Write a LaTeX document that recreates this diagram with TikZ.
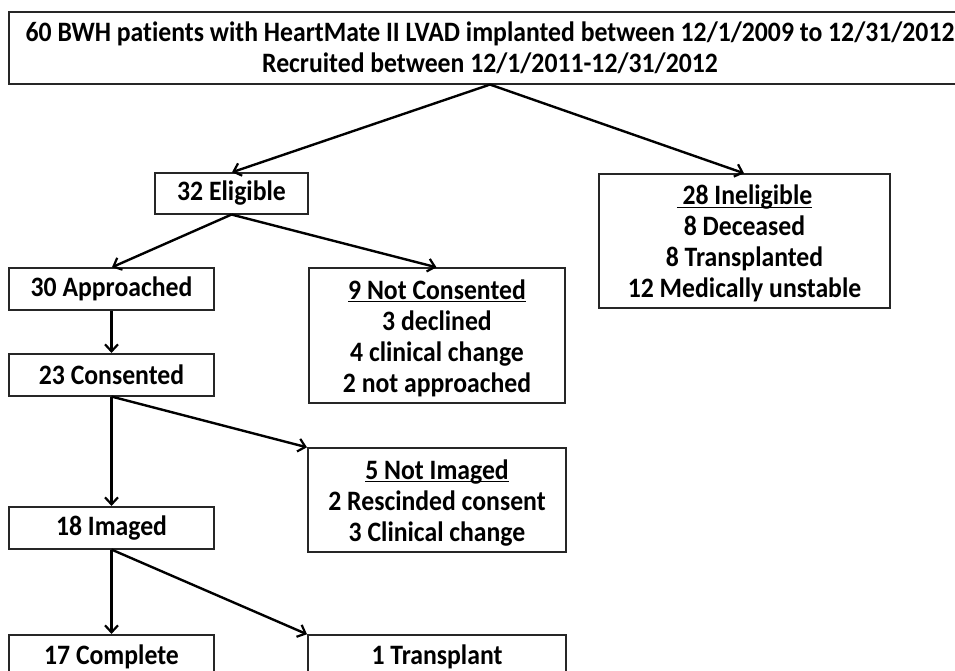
\documentclass[tikz,border=0pt]{standalone}
\usepackage{fontspec}
\setmainfont{Carlito}[Ligatures=NoCommon, FakeStretch=0.915]
\usetikzlibrary{arrows.meta}
\newcommand{\toppad}{\rule{0pt}{25pt}}
\newcommand{\ulhead}[1]{\leavevmode\setbox0\hbox{#1}\rlap{\rule[-3.2pt]{\wd0}{1.3pt}}\box0}
\tikzset{
  box/.style={draw=black!85, line width=1.1pt, fill=white, align=center, inner sep=0pt,
    font=\bfseries\fontsize{28.1pt}{31pt}\selectfont},
  flow/.style={draw=black, line width=2.4pt, -{Straight Barb[length=7pt,width=13pt,line width=2.2pt]}, shorten >=0.5pt}
}
\begin{document}
\begin{tikzpicture}[x=1pt,y=-1pt]
\useasboundingbox (0,0) rectangle (955,671);
\clip (0,0) rectangle (955,671);
\fill[white] (0,0) rectangle (955,671);
\node[box, minimum width=962pt, minimum height=72pt] (top) at (490,48)
  {60 BWH patients with HeartMate II LVAD implanted between 12/1/2009 to 12/31/2012\\Recruited between 12/1/2011-12/31/2012};
\node[box, minimum width=153pt, minimum height=41pt] (elig) at (231.5,193.5) {32 Eligible};
\node[box, minimum width=291pt, minimum height=134pt] (inel) at (744.5,241)
  {\toppad\ulhead{\ 28 Ineligible}\\8 Deceased\\8 Transplanted\\12 Medically unstable};
\node[box, minimum width=205pt, minimum height=42pt] (appr) at (111.5,289) {30 Approached};
\node[box, minimum width=256pt, minimum height=135pt] (notc) at (437,335.5)
  {\toppad\ulhead{9 Not Consented}\\3 declined\\4 clinical change\\2 not approached};
\node[box, minimum width=205pt, minimum height=42pt] (cons) at (111.5,375) {23 Consented};
\node[box, minimum width=258pt, minimum height=104pt] (noti) at (437,500)
  {\toppad\ulhead{5 Not Imaged}\\2 Rescinded consent\\3 Clinical change};
\node[box, minimum width=205pt, minimum height=42pt] (imag) at (111.5,528) {18 Imaged};
\node[box, minimum width=205pt, minimum height=44pt] (comp) at (111.5,657) {17 Complete};
\node[box, minimum width=258pt, minimum height=44pt] (tran) at (437,657) {1 Transplant};
\draw[flow] (top.south) -- (elig.north);
\draw[flow] (top.south) -- (inel.north);
\draw[flow] (elig.south) -- (appr.north);
\draw[flow] (elig.south) -- (notc.north);
\draw[flow] (appr.south) -- (cons.north);
\draw[flow] (cons.south) -- (imag.north);
\draw[flow] (cons.south) -- (noti.north west);
\draw[flow] (imag.south) -- (comp.north);
\draw[flow] (imag.south) -- (tran.north west);
\end{tikzpicture}
\end{document}
